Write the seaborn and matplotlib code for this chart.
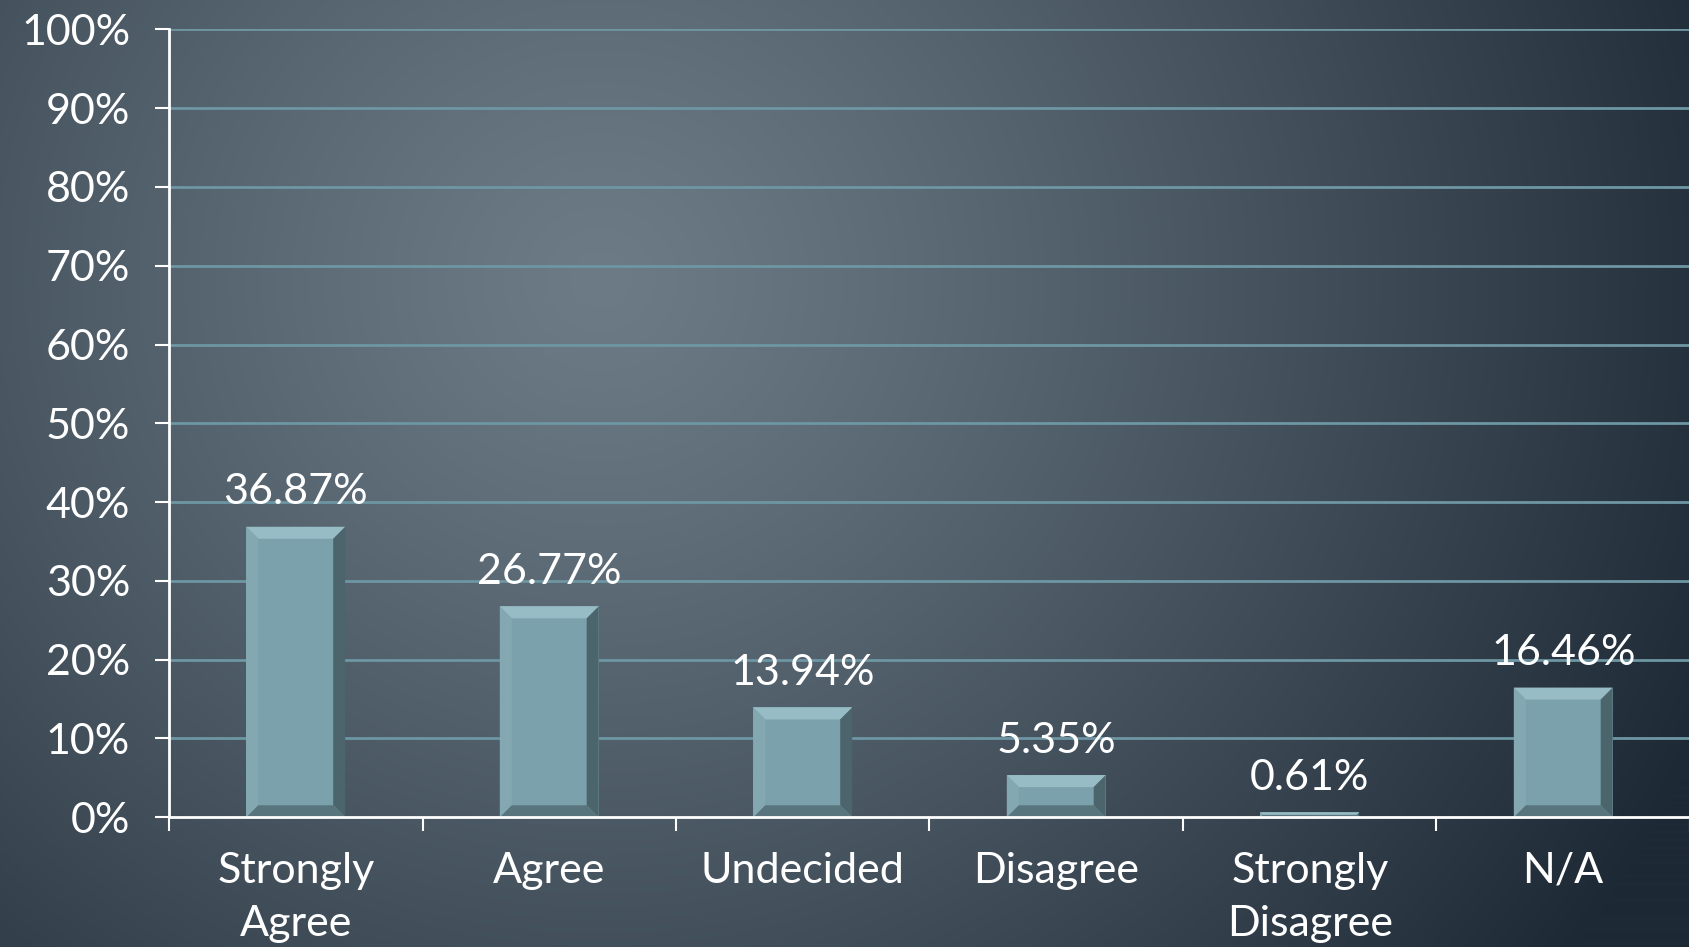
import numpy as np
import pandas as pd
import matplotlib.pyplot as plt
import seaborn as sns
from matplotlib.patches import Polygon

categories = ["Strongly\nAgree", "Agree", "Undecided", "Disagree", "Strongly\nDisagree", "N/A"]
shares = [36.87, 26.77, 13.94, 5.35, 0.61, 16.46]
y_ticks = [0, 10, 20, 30, 40, 50, 60, 70, 80, 90, 100]

BAR = "#7ba2ac"
GRID = "#6e96a3"
FS = 31

sns.set_theme(style="white")
plt.rcParams["font.family"] = ["Lato", "DejaVu Sans"]

df = pd.DataFrame({"category": categories, "share": shares})

fig = plt.figure(figsize=(16.9, 9.47), dpi=100)

# background radial gradient
bg = fig.add_axes([0, 0, 1, 1], zorder=-10)
H, W = 947, 1690
yy, xx = np.mgrid[0:H, 0:W]
d = np.sqrt(((xx - 600) / 1.0) ** 2 + ((yy - 280) / 0.95) ** 2) / 1200
d = np.clip(d, 0, 1.1)
c0 = np.array([0x6c, 0x7b, 0x86]) / 255
c1 = np.array([0x1d, 0x29, 0x35]) / 255
t = np.clip(d ** 1.2, 0, 1)[..., None]
img = c0 * (1 - t) + c1 * t
bg.imshow(img, aspect="auto", extent=[0, 1, 0, 1], origin="upper")
bg.axis("off")

ax = fig.add_axes([0.1, 0.137, 0.9, 0.832])
ax.patch.set_alpha(0)
sns.barplot(data=df, x="category", y="share", color=BAR, width=0.39,
            saturation=1, linewidth=0, edgecolor="none", ax=ax, zorder=3)
ax.set_xlim(-0.5, 5.5)
ax.set_ylim(0, 100)
ax.set_yticks(y_ticks)
ax.set_yticklabels([f"{v}%" for v in y_ticks])
ax.set_xlabel("")
ax.set_ylabel("")

for v in y_ticks[1:]:
    ax.axhline(v, color=GRID, lw=2, zorder=1)

for s in ["top", "right"]:
    ax.spines[s].set_visible(False)
for s in ["left", "bottom"]:
    ax.spines[s].set_color("white")
    ax.spines[s].set_linewidth(2)
    ax.spines[s].set_zorder(4)

ax.tick_params(axis="y", colors="white", labelsize=FS, length=10, width=1.5,
               pad=18, direction="out", left=True)
ax.tick_params(axis="x", which="major", colors="white", labelsize=FS, length=0, pad=25)
ax.set_xticks(np.arange(-0.5, 5.6, 1), minor=True)
ax.tick_params(axis="x", which="minor", colors="white", length=10, width=1.5,
               direction="out", bottom=True)
for lab in ax.get_xticklabels():
    lab.set_linespacing(1.5)

# value labels
for i, v in enumerate(shares):
    ax.annotate(f"{v:.2f}%", (i, v), xytext=(0, 11), textcoords="offset points",
                ha="center", va="bottom", color="white", fontsize=FS, zorder=5)

# bevel effect on bars
fig.canvas.draw()
inv = ax.transData.inverted()
for p in list(ax.patches):
    x0, y0 = p.get_x(), p.get_y()
    x1, y1 = x0 + p.get_width(), y0 + p.get_height()
    (X0, Y0), (X1, Y1) = ax.transData.transform([(x0, y0), (x1, y1)])
    b = min(12, (Y1 - Y0) / 2, (X1 - X0) / 2)
    outer = [(X0, Y0), (X1, Y0), (X1, Y1), (X0, Y1)]
    inner = [(X0 + b, Y0 + b), (X1 - b, Y0 + b), (X1 - b, Y1 - b), (X0 + b, Y1 - b)]
    faces = [
        ([outer[3], outer[2], inner[2], inner[3]], "#98bcc5"),  # top
        ([outer[0], outer[3], inner[3], inner[0]], "#84a8b1"),  # left
        ([outer[1], outer[2], inner[2], inner[1]], "#4c656d"),  # right
        ([outer[0], outer[1], inner[1], inner[0]], "#58747c"),  # bottom
    ]
    for pts, col in faces:
        ax.add_patch(Polygon(inv.transform(pts), closed=True, facecolor=col,
                             edgecolor="none", zorder=3.5))

fig.savefig("out.png", dpi=100)
